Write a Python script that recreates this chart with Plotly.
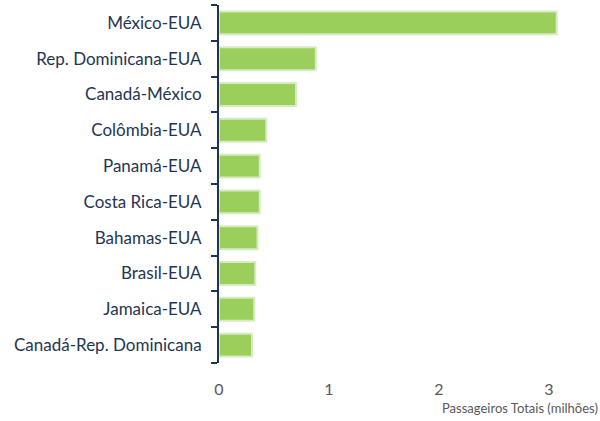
import plotly.graph_objects as go

categories = ["México-EUA", "Rep. Dominicana-EUA", "Canadá-México", "Colômbia-EUA",
              "Panamá-EUA", "Costa Rica-EUA", "Bahamas-EUA", "Brasil-EUA",
              "Jamaica-EUA", "Canadá-Rep. Dominicana"]
values = [3.07, 0.88, 0.70, 0.43, 0.37, 0.37, 0.35, 0.33, 0.32, 0.30]
x_ticks = [0, 1, 2, 3]

fig = go.Figure(go.Bar(
    x=values, y=categories, orientation="h",
    marker=dict(color="#9bcf5b", line=dict(color="#d6ebc2", width=2)),
    width=0.64,
))

fig.update_layout(
    width=600, height=421,
    margin=dict(l=219, r=18, t=5, b=58),
    plot_bgcolor="white", paper_bgcolor="white",
    font=dict(family="Lato", size=17, color="#1f3553"),
    showlegend=False,
    xaxis=dict(range=[0, 3.3], tickvals=x_ticks, showgrid=False, zeroline=False,
               showline=False, tickfont=dict(color="#595959", size=16),
               ticks="", ticklabelstandoff=15, automargin=False),
    yaxis=dict(categoryorder="array", categoryarray=categories[::-1],
               showline=True, linecolor="#1f3553", linewidth=2,
               ticks="outside", tickson="boundaries", ticklen=6,
               tickcolor="#1f3553", tickwidth=2, automargin=False,
               showgrid=False, zeroline=False, ticklabelstandoff=12),
    annotations=[dict(text="Passageiros Totais (milhões)", xref="paper", yref="paper",
                      x=1, xanchor="right", y=-0.126, yanchor="middle",
                      xshift=18, showarrow=False,
                      font=dict(size=13, color="#595959"))],
)

fig.write_html("out.html", config={"displayModeBar": False},
               post_script="document.body.style.margin='0';")
